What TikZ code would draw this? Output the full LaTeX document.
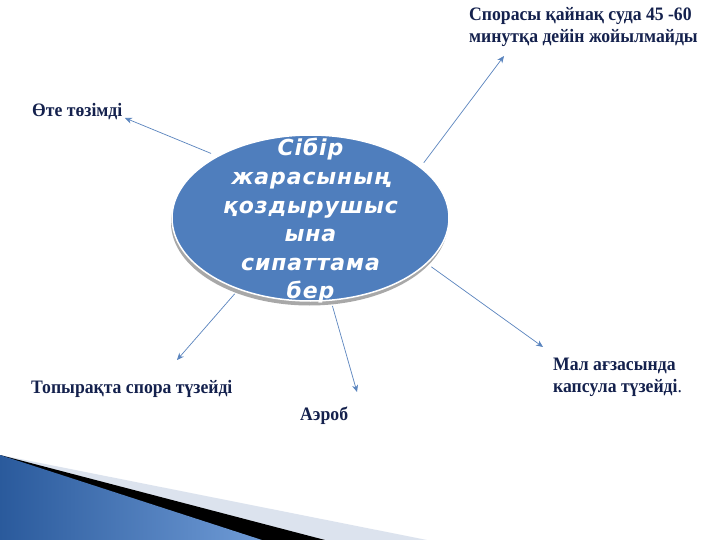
\documentclass[tikz,border=0pt]{standalone}
\usepackage{fontspec}
\setmainfont{Liberation Serif}
\newfontfamily\cfont{DejaVu Sans}[LetterSpace=4]
\newfontfamily\lfont{Liberation Serif}[FakeStretch=0.93]
\usetikzlibrary{shapes.geometric,arrows.meta}
\definecolor{ellblue}{HTML}{4F7EBD}
\definecolor{linblue}{HTML}{5A84BE}
\definecolor{navy}{HTML}{14214D}
\definecolor{shadowgray}{HTML}{A8A8A8}
\definecolor{lightband}{HTML}{DCE3EE}
\definecolor{darkblue}{HTML}{2A5A9C}
\definecolor{midblue}{HTML}{6F9BD6}
\tikzset{
  ellbase/.style={ellipse, minimum width=277pt, minimum height=166pt, inner sep=0pt},
  ctext/.style={text=white, align=center, inner sep=0pt,
    font=\cfont\bfseries\itshape\fontsize{22}{28.6}\selectfont},
  lbl/.style={text=navy, align=left, inner sep=0pt, anchor=base west,
    font=\lfont\bfseries\fontsize{19}{22}\selectfont},
  arr/.style={draw=linblue, line width=0.7pt, -{Stealth[length=7pt,width=6pt]}}
}
\begin{document}
\begin{tikzpicture}[x=1pt,y=-1pt]
\useasboundingbox (0,0) rectangle (720,540);
\fill[white] (0,0) rectangle (720,540);

% decoration bottom-left
\fill[lightband] (0,455) -- (427,540) -- (0,540) -- cycle;
\fill[black] (0,455) -- (325,540) -- (0,540) -- cycle;
\shade[left color=darkblue, right color=midblue] (0,455) -- (262,540) -- (0,540) -- cycle;

% central ellipse
\node[ellbase, fill=shadowgray] (sh) at (309.5,222.5) {};
\node[ellbase, fill=ellblue, draw=white, line width=1.5pt, outer sep=6pt] (c) at (310.5,218) {};
\node[ctext] (ct) at (310.5,221) {Сібір\\жарасының\\қоздырушыс\\ына\\сипаттама\\бер};

% labels
\node[lbl] (l1) at (32,117) {Өте төзімді};
\node[lbl] (l2) at (469,43) {Спорасы қайнақ суда 45 -60\\минутқа дейін жойылмайды};
\node[lbl] (l3) at (553,392) {Мал ағзасында\\капсула түзейді{\mdseries .}};
\node[lbl] (l4) at (31,393) {Топырақта спора түзейді};
\node[lbl] (l5) at (300,420) {Аэроб};

% arrow tips
\coordinate (t1) at (125,118);
\coordinate (t2) at (504,56);
\coordinate (t3) at (543,347);
\coordinate (t4) at (177,360);
\coordinate (t5) at (357,392);

\draw[arr] (c.147.7) -- (t1);
\draw[arr] (c.26.8) -- (t2);
\draw[arr] (c.-22.9) -- (t3);
\draw[arr] (c.225) -- (t4);
\draw[arr] (c.-76) -- (t5);
\end{tikzpicture}
\end{document}
